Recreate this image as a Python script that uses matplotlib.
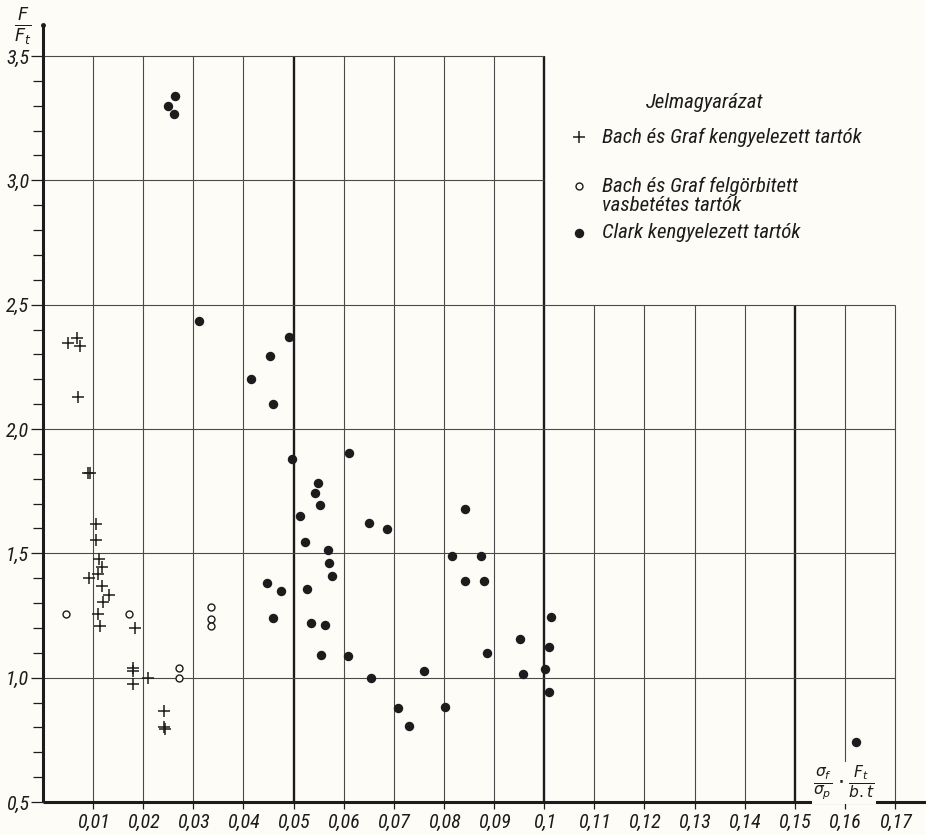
import matplotlib
matplotlib.use("Agg")
import matplotlib.pyplot as plt
from matplotlib import font_manager

# ---------------- data ----------------
cross_x = [0.0049, 0.0067, 0.0073, 0.0069, 0.0090, 0.0094, 0.01055, 0.01055, 0.0112, 0.0117,
           0.0109, 0.0091, 0.0117, 0.0131, 0.0119, 0.0110, 0.0114, 0.0184, 0.0179, 0.0179,
           0.0179, 0.0210, 0.0241, 0.0242, 0.0244]
cross_y = [2.345, 2.367, 2.332, 2.130, 1.823, 1.823, 1.616, 1.552, 1.479, 1.447,
           1.416, 1.400, 1.367, 1.333, 1.305, 1.256, 1.207, 1.200, 1.039, 1.028,
           0.976, 1.000, 0.865, 0.800, 0.795]

open_x = [0.0046, 0.0172, 0.0271, 0.0271, 0.0335, 0.0335, 0.0335]
open_y = [1.256, 1.256, 1.040, 1.000, 1.285, 1.236, 1.209]

fill_x = [0.0263, 0.0250, 0.0261, 0.0311, 0.0490, 0.0452, 0.0415, 0.0459, 0.0497, 0.0610,
          0.0548, 0.0543, 0.0553, 0.0512, 0.0650, 0.0686, 0.0843, 0.0522, 0.0569, 0.0571,
          0.0576, 0.0446, 0.0474, 0.0527, 0.0458, 0.0535, 0.0562, 0.0555, 0.0609, 0.0654,
          0.0817, 0.0873, 0.0842, 0.0879, 0.1014, 0.0951, 0.1010, 0.0886, 0.0760, 0.0958,
          0.1001, 0.0708, 0.0802, 0.0730, 0.1010, 0.1622]
fill_y = [3.340, 3.300, 3.265, 2.436, 2.369, 2.293, 2.200, 2.099, 1.880, 1.905,
          1.783, 1.743, 1.696, 1.649, 1.623, 1.599, 1.680, 1.547, 1.512, 1.461,
          1.407, 1.380, 1.347, 1.357, 1.239, 1.220, 1.212, 1.093, 1.087, 1.000,
          1.491, 1.491, 1.389, 1.389, 1.243, 1.156, 1.125, 1.099, 1.025, 1.013,
          1.033, 0.880, 0.883, 0.807, 0.943, 0.740]

x_ticks = [0.01, 0.02, 0.03, 0.04, 0.05, 0.06, 0.07, 0.08, 0.09, 0.10,
           0.11, 0.12, 0.13, 0.14, 0.15, 0.16, 0.17]
x_labels = ["0,01", "0,02", "0,03", "0,04", "0,05", "0,06", "0,07", "0,08", "0,09", "0,1",
            "0,11", "0,12", "0,13", "0,14", "0,15", "0,16", "0,17"]
y_ticks = [0.5, 1.0, 1.5, 2.0, 2.5, 3.0, 3.5]
y_labels = ["0,5", "1,0", "1,5", "2,0", "2,5", "3,0", "3,5"]
y_minor = [0.6, 0.7, 0.8, 0.9, 1.1, 1.2, 1.3, 1.4, 1.6, 1.7, 1.8, 1.9, 2.1, 2.2, 2.3, 2.4,
           2.6, 2.7, 2.8, 2.9, 3.1, 3.2, 3.3, 3.4]

legend_title = "Jelmagyarázat"
legend_items = ["Bach és Graf kengyelezett tartók",
                "Bach és Graf felgörbitett\nvasbetétes tartók",
                "Clark kengyelezett tartók"]

# ---------------- font ----------------
fam = "DejaVu Sans"
for cand in ["Liberation Sans Narrow", "Roboto Condensed", "Open Sans Condensed"]:
    try:
        font_manager.findfont(font_manager.FontProperties(family=cand), fallback_to_default=False)
        fam = cand
        break
    except Exception:
        pass
plt.rcParams['font.family'] = [fam, 'DejaVu Sans']
plt.rcParams['mathtext.fontset'] = 'dejavusans'

ink = "#1c1c1c"
grid_c = "#4a4a4a"
bg = "#fdfcf7"

W, H = 926, 835
fig = plt.figure(figsize=(W / 100, H / 100), dpi=100, facecolor=bg)
left_px, right_px, top_px, bot_px = 43, 926, 25, 802
ax = fig.add_axes([left_px / W, (H - bot_px) / H, (right_px - left_px) / W, (bot_px - top_px) / H])
ax.set_facecolor(bg)
x_lo_end, x_up_end = 0.17, 0.10
ax.set_xlim(0, 0.17 + (926 - 895) / (852 / 0.17))
ax.set_ylim(0.5, 3.5 + 31 / (746 / 3.0))
for s in ax.spines.values():
    s.set_visible(False)

# ---------------- grid ----------------
heavy = [0.05, 0.10, 0.15]
for xv in x_ticks:
    ytop = 3.5 if xv <= x_up_end + 1e-9 else 2.5
    lw = 1.7 if any(abs(xv - h) < 1e-9 for h in heavy) else 0.8
    col = ink if lw > 1 else grid_c
    ax.vlines(xv, 0.5, ytop, color=col, lw=lw, zorder=1)
for yv in y_ticks[1:]:
    xe = x_lo_end if yv <= 2.5 else x_up_end
    ax.hlines(yv, 0, xe, color=grid_c, lw=0.8, zorder=1)

# axes lines
ax.hlines(0.5, 0, ax.get_xlim()[1], color=ink, lw=2.2, zorder=2, clip_on=False)
ax.vlines(0, 0.5, ax.get_ylim()[1], color=ink, lw=2.2, zorder=2, clip_on=False)
ax.plot([0], [ax.get_ylim()[1]], 'o', ms=2.5, color=ink, clip_on=False)

# ticks
ax.set_xticks(x_ticks)
ax.set_xticklabels(x_labels, fontsize=14.5, style='italic', color=ink)
ax.set_yticks(y_ticks)
ax.set_yticklabels(y_labels, fontsize=14.5, style='italic', color=ink)
ax.set_yticks(y_minor, minor=True)
ax.tick_params(axis='x', direction='out', length=5, width=0.9, pad=3, colors=ink)
ax.tick_params(axis='y', which='major', direction='out', length=9, width=0.9, pad=1, colors=ink)
ax.tick_params(axis='y', which='minor', direction='out', length=7, width=0.9, colors=ink)

# ---------------- data marks ----------------
ax.plot(cross_x, cross_y, linestyle='none', marker='+', ms=9, mew=1.1, color=ink, zorder=3)
ax.plot(open_x, open_y, linestyle='none', marker='o', ms=5.0, mew=1.0, mfc=bg, mec=ink, zorder=3)
ax.plot(fill_x, fill_y, linestyle='none', marker='o', ms=6.8, mew=0, color=ink, zorder=3)

# ---------------- labels ----------------
def fxy(px, py):
    return px / W, 1 - py / H

fig.text(*fxy(23, 27), r'$\frac{F}{F_t}$', fontsize=18, ha='center', va='center', color=ink)
fig.text(*fxy(844, 783), r'$\frac{\sigma_f}{\sigma_p}\cdot\frac{F_t}{b.t}$', fontsize=16,
         ha='center', va='center', color=ink, zorder=5,
         bbox=dict(boxstyle='square,pad=0.05', fc=bg, ec='none'))

# legend
fig.text(*fxy(705, 103), legend_title, fontsize=15, style='italic', ha='center', va='center', color=ink)
mk_x = 579
rows = [137, 186, 233]
text_y = [137, 196, 233]
styles = [dict(marker='+', ms=9, mew=1.1, color=ink),
          dict(marker='o', ms=5.0, mew=1.0, mfc=bg, mec=ink),
          dict(marker='o', ms=6.8, mew=0, color=ink)]
for lab, ry, ty, st in zip(legend_items, rows, text_y, styles):
    fx, fy = fxy(mk_x, ry)
    fig.add_artist(plt.Line2D([fx], [fy], linestyle='none', transform=fig.transFigure, **st))
    fig.text(*fxy(602, ty), lab, fontsize=15, style='italic', ha='left', va='center',
             color=ink, linespacing=1.05)

fig.savefig("out.png", dpi=100, facecolor=bg)
